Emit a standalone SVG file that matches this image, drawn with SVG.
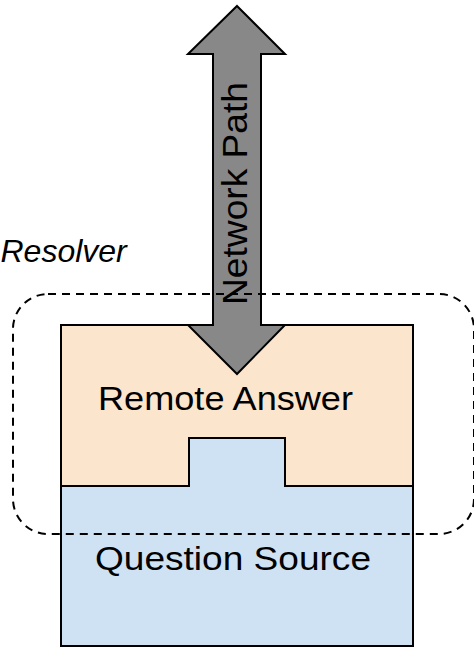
<svg xmlns="http://www.w3.org/2000/svg" width="474" height="647" viewBox="0 0 474 647">
  <style>
    .box { stroke: #000; stroke-width: 2; stroke-linejoin: miter; }
    .label { font-family: "Liberation Sans", Arial, sans-serif; fill: #000; }
    .zone { fill: none; stroke: #000; stroke-width: 2; stroke-dasharray: 8 6; }
  </style>
  <rect width="474" height="647" fill="#fff"/>

  <!-- Upper block, notched where the lower block pokes up -->
  <g id="remote-answer">
    <path class="box" fill="#fce5cd" d="M61,325 H413 V486 H285 V438 H189 V486 H61 Z"/>
    <text class="label" x="98" y="410" font-size="34" textLength="255" lengthAdjust="spacingAndGlyphs">Remote Answer</text>
  </g>

  <!-- Lower block with its raised tab -->
  <g id="question-source">
    <path class="box" fill="#cfe2f3" d="M61,486 H189 V438 H285 V486 H413 V646 H61 Z"/>
    <text class="label" x="95" y="569.5" font-size="34" textLength="276" lengthAdjust="spacingAndGlyphs">Question Source</text>
  </g>

  <!-- Double-headed block arrow -->
  <g id="network-path">
    <polygon class="box" fill="#888888" points="237,6 285,54 261,54 261,325 285,325 237,374 188,325 213,325 213,54 188,54"/>
    <text class="label" transform="translate(246.7,305) rotate(-90)" x="0" y="0" font-size="35" textLength="223" lengthAdjust="spacingAndGlyphs">Network Path</text>
  </g>

  <!-- Dashed grouping outline -->
  <g id="resolver">
    <text class="label" x="0.5" y="262" font-size="32" font-style="italic">Resolver</text>
    <rect class="zone" x="13" y="294" width="461" height="240" rx="35" ry="35"/>
  </g>
</svg>
